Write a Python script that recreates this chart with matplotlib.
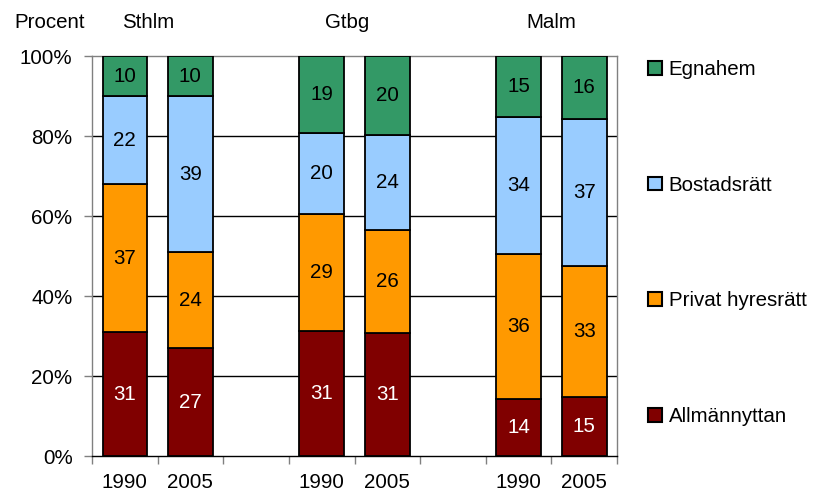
import matplotlib
matplotlib.use("Agg")
import matplotlib.pyplot as plt
from matplotlib.patches import Patch
import numpy as np

plt.rcParams['font.family'] = ['Liberation Sans', 'DejaVu Sans']

cities = ["Sthlm", "Gtbg", "Malm"]
years = ["1990", "2005"]
series = ["Allmännyttan", "Privat hyresrätt", "Bostadsrätt", "Egnahem"]
colors = ["#800000", "#FF9900", "#99CCFF", "#339966"]
text_colors = ["white", "black", "black", "black"]

allmannyttan = [31, 27, 31, 31, 14, 15]
privat = [37, 24, 29, 26, 36, 33]
bostadsratt = [22, 39, 20, 24, 34, 37]
egnahem = [10, 10, 19, 20, 15, 16]

values = np.array([allmannyttan, privat, bostadsratt, egnahem], dtype=float)
shares = values / values.sum(axis=0) * 100

positions = [0, 1, 3, 4, 6, 7]
city_label_x = [0.35, 3.38, 6.5]

fig = plt.figure(figsize=(8.14, 4.94), dpi=100)
ax = fig.add_axes([92/814, 1 - 456/494, 525/814, 400/494])

fs = 14.8
bottom = np.zeros(len(positions))
for i, name in enumerate(series):
    ax.bar(positions, shares[i], width=0.68, bottom=bottom, color=colors[i],
           edgecolor="black", linewidth=1.3, label=name, zorder=3)
    for x, b, h, v in zip(positions, bottom, shares[i], values[i]):
        ax.text(x, b + h / 2, f"{int(v)}", ha="center", va="center",
                color=text_colors[i], fontsize=fs, zorder=4)
    bottom += shares[i]

ax.set_xlim(-0.5, 7.5)
ax.set_ylim(0, 100)
ax.set_yticks([0, 20, 40, 60, 80, 100])
ax.set_yticklabels([f"{t}%" for t in [0, 20, 40, 60, 80, 100]], fontsize=fs)
for y in [20, 40, 60, 80]:
    ax.axhline(y, color="black", linewidth=1.0, zorder=1)

ax.set_xticks(positions)
ax.set_xticklabels(years * 3, fontsize=fs)
ax.set_xticks(np.arange(-0.5, 8, 1), minor=True)
ax.tick_params(axis="x", which="major", length=0, pad=12)
ax.tick_params(axis="x", which="minor", length=6, color="#808080", width=1)
ax.tick_params(axis="y", length=6, color="#808080", width=1, pad=8)

for side in ["left", "right", "top"]:
    ax.spines[side].set_color("#808080")
    ax.spines[side].set_linewidth(1.0)
ax.spines["bottom"].set_color("black")
ax.spines["bottom"].set_linewidth(1.0)

for cx, c in zip(city_label_x, cities):
    ax.text(cx, 108.5, c, ha="center", va="center", fontsize=fs)
fig.text(50/814, 1 - 22/494, "Procent", ha="center", va="center", fontsize=fs)

handles = [Patch(facecolor=colors[i], edgecolor="black", linewidth=1.5) for i in range(4)][::-1]
labels = series[::-1]
leg = fig.legend(handles, labels, loc="upper left", bbox_to_anchor=(640/814, 1 - 52/494),
                 frameon=False, fontsize=fs, labelspacing=4.7, handlelength=0.65,
                 handleheight=0.65, handletextpad=0.35, borderaxespad=0)

fig.savefig("out.png", dpi=100)
